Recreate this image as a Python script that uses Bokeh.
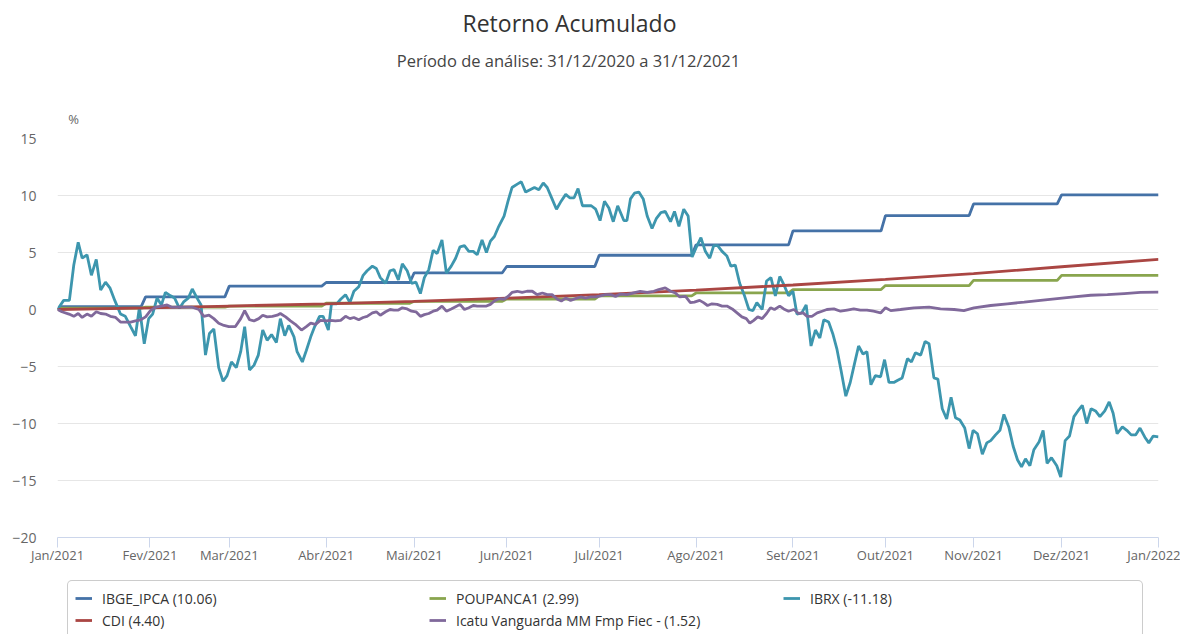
from bokeh.plotting import figure
from bokeh.layouts import column
from bokeh.models import Range1d, FixedTicker, Label, Legend, LegendItem
from bokeh.embed import file_html
from bokeh.resources import INLINE

FONT = "Open Sans"

# ---------------- data ----------------
title_text = "Retorno Acumulado"
subtitle_text = "Período de análise: 31/12/2020 a 31/12/2021"
unit_text = "%"

# x axis: trading-day index from 31/12/2020 (0) to 31/12/2021 (250)
month_ticks = [0, 21, 39, 61, 81, 102, 123, 145, 167, 188, 208, 228, 250]
month_labels = ["Jan/2021", "Fev/2021", "Mar/2021", "Abr/2021", "Mai/2021", "Jun/2021",
                "Jul/2021", "Ago/2021", "Set/2021", "Out/2021", "Nov/2021", "Dez/2021", "Jan/2022"]
y_ticks = [-20, -15, -10, -5, 0, 5, 10, 15]

# monthly step series (IPCA and savings): day of each step and level after it
step_days = [1, 20, 39, 61, 81, 102, 123, 145, 167, 188, 208, 228]
ipca_levels = [0.25, 1.11, 2.05, 2.37, 3.22, 3.77, 4.76, 5.67, 6.90, 8.24, 9.26, 10.06]
poup_levels = [0.12, 0.20, 0.30, 0.55, 0.72, 0.92, 1.20, 1.45, 1.75, 2.10, 2.55, 2.99]

cdi_days = [0, 21, 39, 61, 81, 102, 123, 145, 167, 188, 208, 228, 250]
cdi_values = [0, 0.15, 0.30, 0.50, 0.72, 1.00, 1.30, 1.70, 2.15, 2.65, 3.15, 3.75, 4.40]

ibrx_days = [0, 1.4, 2.7, 3.7, 4.7, 5.6, 6.7, 7.7, 8.8, 9.8, 10.9, 11.9, 13, 14.3, 15.4, 16.6, 17.7,
             18.6, 19.7, 20.7, 21.6, 22.6, 23.6, 24.5, 25.7, 26.6, 27.7, 28.7, 29.7, 30.6, 31.7, 32.6,
             33.6, 34.5, 35.5, 36.6, 37.6, 38.5, 39.5, 40.6, 41.6, 42.5, 43.6, 44.6, 45.6, 46.6, 47.6,
             48.6, 49.7, 50.6, 51.6, 52.5, 53.7, 54.4, 55.6, 56.5, 57.5, 58.4, 59.5, 60.3, 61.5, 62.2,
             63.4, 64.3, 65.4, 66.4, 67.3, 68.4, 69.4, 70.3, 71.5, 72.4, 73.3, 74.5, 75.5, 76.4, 77.4,
             78.3, 79.4, 80.4, 81.4, 82.4, 83.3, 84.3, 85.3, 86.2, 87.3, 88.3, 89.4, 90.4, 91.4, 92.4,
             93.4, 94.4, 95.3, 96.4, 97.4, 98.3, 99.2, 100.2, 101.4, 102.3, 103.2, 104.4, 105.3, 106.3,
             107.3, 108.3, 109.3, 110.3, 111.2, 112.3, 113.3, 114.2, 115.4, 116.3, 117.3, 118.2, 119.2,
             120.3, 121.2, 122.2, 123.2, 124.2, 125.2, 126.2, 127.2, 128.6, 129.3, 130.1, 131, 132, 133,
             133.9, 135, 136, 137, 138, 139.2, 140.1, 141.1, 142.2, 143.2, 144.1, 145.1, 146.1, 147.1,
             148.1, 149, 149.9, 150.9, 152, 152.9, 153.9, 154.9, 156, 157, 157.9, 158.8, 160, 161, 162,
             163, 164, 164.9, 166, 167, 167.9, 169, 170, 171.1, 172.1, 173.1, 174, 175.1, 176.1, 177,
             177.9, 179, 180, 181, 181.9, 182.9, 183.8, 184.7, 185.7, 186.9, 187.8, 188.8, 189.9, 190.8,
             191.8, 193, 193.9, 194.8, 196, 197, 197.9, 199, 199.9, 200.9, 201.9, 202.9, 203.9, 204.9,
             206, 207, 207.9, 208.9, 210, 211, 211.9, 213, 214, 214.9, 216, 217, 218, 218.9, 219.8,
             220.8, 221.7, 222.9, 223.8, 224.7, 225.7, 226.9, 227.8, 228.8, 229.8, 230.8, 231.7, 232.7,
             233.7, 234.7, 235.7, 236.7, 237.8, 238.8, 239.7, 240.6, 241.8, 242.8, 243.8, 244.8, 245.8,
             246.9, 247.8, 248.8, 250]
ibrx_values = [0, 0.8, 0.8, 3.9, 5.9, 4.5, 4.8, 3.0, 4.4, 1.7, 2.4, 1.9, 0.8, -0.4, -0.6, -1.5, -2.3,
               0.2, -3.0, -0.8, -0.4, 1.0, 0.4, 1.5, 1.2, 1.0, 0.1, 0.7, 1.0, 1.8, 1.0, 0.4,
               -4.0, -2.1, -1.7, -5.1, -6.3, -5.8, -4.6, -5.1, -3.7, -1.5, -5.3, -4.9, -4.0, -1.8, -2.7,
               -2.2, -2.9, -0.8, -2.3, -1.4, -2.4, -3.7, -4.6, -3.6, -2.4, -1.5, -0.6, -0.6, -1.8, 0.5,
               0.5, 0.9, 1.3, 0.6, 1.6, 2.0, 3.0, 3.4, 3.8, 3.6, 2.8, 2.3, 3.4, 3.5, 2.6,
               4.0, 3.4, 2.3, 2.4, 1.4, 2.8, 3.5, 5.2, 4.9, 6.1, 3.2, 3.8, 4.5, 5.5, 5.6,
               5.1, 5.1, 4.8, 6.1, 5.0, 6.0, 6.4, 7.3, 8.2, 9.5, 10.7, 11.0, 11.2, 10.3,
               10.5, 10.7, 10.5, 11.1, 10.7, 9.7, 8.8, 9.4, 10.1, 9.8, 9.8, 10.6, 9.1,
               9.1, 9.1, 8.8, 7.8, 9.5, 8.9, 7.7, 9.1, 7.8, 7.8, 9.7, 10.2, 10.3, 9.7,
               8.2, 7.1, 8.0, 8.5, 8.6, 7.7, 8.6, 7.3, 8.8, 8.2, 4.6, 5.5, 6.3, 5.1,
               4.5, 5.6, 5.6, 5.1, 4.7, 3.8, 3.9, 2.3, 1.2, 0.0, -0.1, 0.6, 0.0, 2.5, 2.8,
               1.2, 2.9, 2.2, 1.2, 1.6, -0.4, -0.3, 0.4, -3.2, -1.8, -2.5, -0.9, -1.1, -2.2, -3.5,
               -5.3, -7.6, -6.4, -4.7, -3.2, -3.9, -3.7, -6.6, -5.8, -5.9, -4.4, -6.4, -6.4, -6.2,
               -6.0, -4.3, -4.6, -3.8, -4.0, -2.8, -3.0, -6.0, -6.1, -8.7, -9.6, -7.7, -9.5, -9.7,
               -10.4, -12.2, -10.6, -10.9, -12.7, -11.7, -11.5, -11.0, -10.6, -9.2, -10.3, -12.0, -13.2, -13.8, -13.1,
               -13.7, -12.3, -11.6, -10.6, -13.5, -13.0, -13.7, -14.7, -11.5, -11.1, -9.4, -8.9, -8.4,
               -10.0, -8.7, -8.9, -9.4, -8.9, -8.1, -9.1, -10.9, -10.3, -10.6, -11.0, -11.0, -10.4,
               -11.2, -11.7, -11.1, -11.18]

icatu_days = [0, 1, 2.6, 3.7, 4.7, 5.6, 6.7, 7.7, 8.8, 9.8, 10.9, 12, 13.2, 14.3, 15.4, 16.6, 17.7,
              18.9, 20, 21.1, 22.3, 23.6, 24.9, 26, 27.6, 29.1, 30.6, 32.1, 33.2, 34.4, 35.5, 36.6,
              37.8, 38.9, 40.4, 41.6, 42.5, 43.6, 44.6, 45.7, 46.6, 47.6, 48.8, 49.9, 50.6, 51.8, 52.9,
              54, 55.4, 56.5, 57.5, 58.6, 59.7, 60.9, 62, 63.1, 64.3, 65.4, 66.4, 67.3, 68.4, 69.4,
              70.3, 71.5, 72.4, 73.3, 74.5, 75.5, 76.4, 77.4, 78.3, 79.4, 80.4, 81.4, 82.4, 83.3, 84.3,
              85.3, 86.2, 87.3, 88.3, 89.4, 90.4, 91.4, 92.4, 93.4, 94.4, 95.3, 96.4, 97.4, 98.3, 99.2,
              100.2, 101.4, 102.3, 103.2, 104.4, 105.5, 106.6, 107.8, 108.9, 110.1, 111.2, 112.3, 113.5,
              114.4, 115.4, 116.5, 117.6, 118.8, 119.9, 121, 122.2, 123.3, 124.4, 125.6, 126.7, 127.8,
              129.3, 130.8, 132.3, 133.9, 135.4, 136.5, 138, 139.2, 140.3, 141.3, 142.6, 143.7, 144.6,
              145.8, 146.7, 147.6, 148.6, 149.8, 150.9, 152, 153.2, 154.3, 155.4, 156.4, 157.2, 158.1,
              159, 160, 161, 161.9, 162.8, 164, 164.9, 166, 167.2, 168.3, 169.3, 170.2, 171.3, 172.5,
              173.6, 174.7, 176.3, 177.8, 179.3, 180.8, 182.3, 183.8, 185.3, 186.9, 188, 189.2, 191.4,
              194.5, 197.9, 200.5, 203.6, 205.8, 208.1, 211.9, 215.7, 219.5, 223.2, 227, 230.8, 234.6,
              238.4, 242.2, 245.9, 250]
icatu_values = [0, -0.2, -0.4, -0.6, -0.35, -0.7, -0.4, -0.6, -0.2, -0.35, -0.4, -0.6, -0.7, -1.1, -1.1, -1.1, -1.0,
                -0.9, -0.65, -0.1, 0.2, 0.3, 0.4, 0.2, 0.2, 0.2, 0.2, 0.0, -0.6, -0.5, -0.8, -1.2,
                -1.4, -1.5, -1.5, -0.8, -0.1, -0.9, -1.0, -0.8, -0.5, -0.65, -0.6, -0.5, -0.35, -0.65, -1.0,
                -1.3, -1.8, -1.5, -1.2, -1.3, -0.95, -1.0, -0.95, -1.0, -0.95, -0.6, -0.8, -0.7, -0.9, -0.7,
                -0.6, -0.3, -0.2, -0.5, -0.2, 0.0, -0.05, -0.05, 0.15, 0.05, -0.15, -0.2, -0.6, -0.45, -0.35,
                -0.15, -0.05, 0.3, -0.15, 0.05, 0.25, 0.45, 0.0, 0.15, 0.35, 0.3, 0.3, 0.3, 0.45, 0.75,
                0.95, 0.9, 1.15, 1.5, 1.6, 1.5, 1.6, 1.6, 1.3, 1.45, 1.3, 1.3, 0.9,
                0.75, 1.0, 0.8, 0.95, 1.1, 1.0, 1.1, 1.1, 1.2, 1.3, 1.3, 1.15, 1.35,
                1.3, 1.45, 1.6, 1.5, 1.6, 1.75, 1.9, 1.6, 1.45, 1.1, 1.15, 0.6, 0.65,
                0.8, 0.6, 0.35, 0.5, 0.45, 0.3, 0.3, 0.05, -0.3, -0.65, -0.8, -1.2, -0.95,
                -0.65, -0.8, -0.35, 0.15, 0.0, 0.3, 0.05, -0.15, 0.0, -0.35, -0.3, -0.6, -0.6, -0.3,
                -0.15, 0.0, 0.05, -0.15, -0.05, 0.05, -0.05, -0.05, -0.15, -0.3, 0.15, -0.1, 0.0,
                0.15, 0.2, 0.05, 0.0, -0.1, 0.15, 0.35, 0.5, 0.65, 0.8, 0.95, 1.1, 1.25,
                1.3, 1.4, 1.5, 1.52]

series_names = ["IBGE_IPCA (10.06)", "POUPANCA1 (2.99)", "IBRX (-11.18)", "CDI (4.40)",
                "Icatu Vanguarda MM Fmp Fiec - (1.52)"]
series_colors = ["#4572A7", "#89A54E", "#3D96AE", "#AA4643", "#80699B"]


def step_series(days, levels, end_day):
    xs, ys = [0], [0.0]
    prev = 0.0
    for d, lv in zip(days, levels):
        if d - 1 > xs[-1]:
            xs.append(d - 1)
            ys.append(prev)
        xs.append(d)
        ys.append(lv)
        prev = lv
    xs.append(end_day)
    ys.append(prev)
    return xs, ys


ipca_x, ipca_y = step_series(step_days, ipca_levels, month_ticks[-1])
poup_x, poup_y = step_series(step_days, poup_levels, month_ticks[-1])
series_xy = [(ipca_x, ipca_y), (poup_x, poup_y), (ibrx_days, ibrx_values),
             (cdi_days, cdi_values), (icatu_days, icatu_values)]

W = 1180


def blank_fig(h, y0=0, y1=1):
    f = figure(width=W, height=h, x_range=Range1d(0, 1), y_range=Range1d(y0, y1),
               x_axis_type=None, y_axis_type=None, output_backend="svg", toolbar_location=None,
               min_border=0, min_border_left=0, min_border_right=0, min_border_top=0,
               min_border_bottom=0)
    f.outline_line_color = None
    f.background_fill_color = "white"
    f.border_fill_color = "white"
    f.grid.visible = False
    return f


# ---------------- header (titles); frame is aligned with the chart frame ----------------
head = blank_fig(128)
head.add_layout(Label(x=512, y=106, x_units="screen", y_units="screen", text=title_text,
                      text_align="center", text_baseline="middle", text_font=FONT,
                      text_font_size="23px", text_color="#333333"))
head.add_layout(Label(x=511, y=68, x_units="screen", y_units="screen", text=subtitle_text,
                      text_align="center", text_baseline="middle", text_font=FONT,
                      text_font_size="16.5px", text_color="#444444"))
head.add_layout(Label(x=16, y=10, x_units="screen", y_units="screen", text=unit_text,
                      text_align="center", text_baseline="middle", text_font=FONT,
                      text_font_size="13px", text_color="#666666"))

# ---------------- main chart ----------------
p = figure(frame_width=1101, frame_height=399, x_range=Range1d(0, 250), y_range=Range1d(-20, 15),
           output_backend="svg", toolbar_location=None, title=None,
           min_border_left=57, min_border_right=22, min_border_top=10, min_border_bottom=43)
p.outline_line_color = None
p.background_fill_color = "white"
p.border_fill_color = "white"

lw = 2.8
for (xs, ys), c in zip(series_xy, series_colors):
    p.line(xs, ys, color=c, line_width=lw)

p.xaxis.ticker = FixedTicker(ticks=month_ticks)
p.xaxis.major_label_overrides = {t: l for t, l in zip(month_ticks, month_labels)}
p.xaxis.axis_line_color = "#ccd6eb"
p.xaxis.major_tick_line_color = "#ccd6eb"
p.xaxis.major_tick_out = 10
p.xaxis.major_tick_in = 0
p.xaxis.minor_tick_line_color = None
p.xaxis.major_label_text_color = "#666666"
p.xaxis.major_label_text_font = FONT
p.xaxis.major_label_text_font_size = "13px"
p.xaxis.major_label_standoff = -2

p.yaxis.ticker = FixedTicker(ticks=y_ticks)
p.yaxis.axis_line_color = None
p.yaxis.major_tick_line_color = None
p.yaxis.minor_tick_line_color = None
p.yaxis.major_tick_out = 0
p.yaxis.major_tick_in = 0
p.yaxis.major_label_text_color = "#666666"
p.yaxis.major_label_text_font = FONT
p.yaxis.major_label_text_font_size = "14px"
p.yaxis.major_label_standoff = 21

p.xgrid.grid_line_color = None
p.ygrid.ticker = FixedTicker(ticks=y_ticks)
p.ygrid.grid_line_color = "#e6e6e6"
p.ygrid.grid_line_width = 1

# ---------------- legend strip ----------------
# the series are re-drawn here outside the visible range, only to feed the legend symbols
leg = blank_fig(54, 1000, 1001)
leg_renderers = [leg.line(xs, ys, color=c, line_width=lw) for (xs, ys), c in zip(series_xy, series_colors)]
items = [LegendItem(label=n, renderers=[r]) for n, r in zip(series_names, leg_renderers)]
legend = Legend(items=items, orientation="horizontal", ncols=3, location=(10, -4),
                glyph_width=17, glyph_height=20, label_standoff=10, label_width=325,
                label_height=20, spacing=2, padding=7, margin=0,
                label_text_font=FONT, label_text_font_size="14px", label_text_color="#333333",
                border_line_color="#999999", border_line_width=1, background_fill_alpha=1)
try:
    legend.border_radius = 5
except Exception:
    pass
leg.add_layout(legend, "center")

layout = column(head, p, leg, spacing=0)
open("out.html", "w").write(file_html(layout, INLINE))
